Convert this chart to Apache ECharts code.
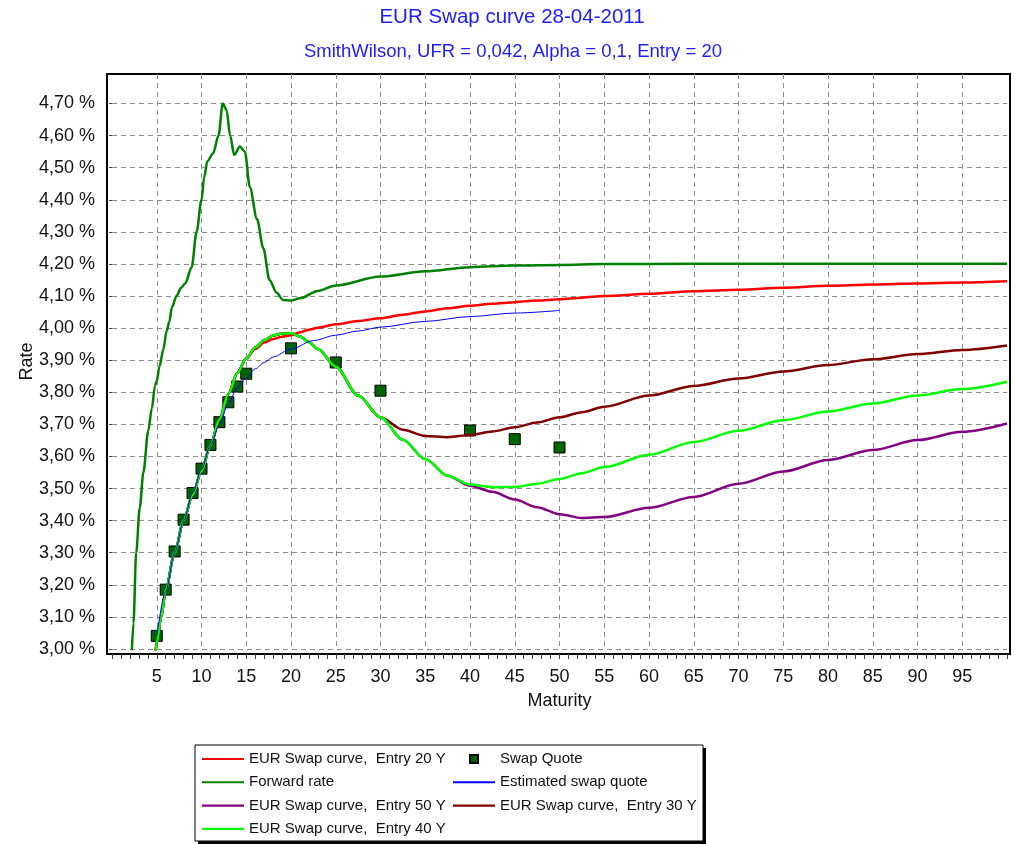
<!DOCTYPE html>
<html>
<head>
<meta charset="utf-8">
<title>EUR Swap curve 28-04-2011</title>
<script src="https://cdn.jsdelivr.net/npm/echarts@6/dist/echarts.min.js"></script>
<style>
  html, body { margin: 0; padding: 0; background: #fff; }
  #main { width: 1015px; height: 844px; }
</style>
</head>
<body>
<div id="main"></div>
<script>
// values (rate in %)
var fwdMat = [2.2, 2.4, 2.7, 3.1, 3.5, 4.05, 4.45, 4.8, 5.0, 5.3, 5.75, 6.1, 6.4, 6.7, 7.2, 7.7, 8.2, 8.9, 9.45, 10.0,
  10.3, 10.65, 11.3, 11.9, 12.37, 12.8, 13.2, 13.65, 14.3, 14.85, 15.4, 16.2, 16.9, 17.6, 18.4, 19.1, 20, 21, 23, 25,
  30, 35, 40, 45, 50, 55, 60, 70, 80, 90, 100];
var fwdRate = [2.985, 3.08, 3.30, 3.44, 3.55, 3.68, 3.75, 3.82, 3.835, 3.88, 3.935, 3.99, 4.02, 4.065, 4.10, 4.125, 4.14, 4.19, 4.30, 4.40,
  4.47, 4.52, 4.545, 4.60, 4.70, 4.68, 4.60, 4.54, 4.566, 4.55, 4.44, 4.34, 4.25, 4.15, 4.11, 4.088, 4.086, 4.093, 4.116, 4.133,
  4.161, 4.177, 4.19, 4.195, 4.197, 4.200, 4.200, 4.201, 4.201, 4.201, 4.201];

var curveMat = [4.85, 5, 5.5, 6, 7, 8, 9, 10, 11, 12, 13, 14, 15, 16, 17, 18, 19, 20, 21, 22,
  23, 25, 27.5, 30, 32.5, 35, 37.5, 40, 42.5, 45, 47.5, 50, 52.5, 55, 60, 65, 70, 75, 80, 85,
  90, 95, 100];
var entry20 = [2.985, 3.02, 3.10, 3.185, 3.30, 3.40, 3.48, 3.555, 3.635, 3.715, 3.795, 3.86, 3.905, 3.935, 3.955, 3.966, 3.973, 3.978, 3.987, 3.995,
  4.001, 4.012, 4.022, 4.031, 4.042, 4.052, 4.062, 4.07, 4.076, 4.081, 4.086, 4.09, 4.095, 4.10, 4.107, 4.115, 4.12, 4.126, 4.132, 4.136,
  4.139, 4.142, 4.146];
var entry30 = [2.985, 3.02, 3.10, 3.185, 3.30, 3.40, 3.48, 3.555, 3.635, 3.715, 3.795, 3.86, 3.905, 3.94, 3.962, 3.977, 3.983, 3.984, 3.974, 3.957,
  3.935, 3.88, 3.79, 3.722, 3.683, 3.664, 3.66, 3.667, 3.678, 3.691, 3.706, 3.722, 3.738, 3.755, 3.79, 3.82, 3.843, 3.865, 3.885, 3.903,
  3.919, 3.932, 3.946];
var entry40 = [2.985, 3.02, 3.10, 3.185, 3.30, 3.40, 3.48, 3.555, 3.635, 3.715, 3.795, 3.86, 3.905, 3.94, 3.962, 3.977, 3.983, 3.984, 3.974, 3.957,
  3.935, 3.88, 3.79, 3.722, 3.652, 3.592, 3.54, 3.513, 3.504, 3.505, 3.515, 3.53, 3.548, 3.567, 3.605, 3.645, 3.68, 3.713, 3.74, 3.765,
  3.79, 3.81, 3.833];
var entry50 = [2.985, 3.02, 3.10, 3.185, 3.30, 3.40, 3.48, 3.555, 3.635, 3.715, 3.795, 3.86, 3.905, 3.94, 3.962, 3.977, 3.983, 3.984, 3.974, 3.957,
  3.935, 3.88, 3.79, 3.722, 3.652, 3.592, 3.54, 3.509, 3.49, 3.466, 3.442, 3.42, 3.408, 3.411, 3.44, 3.474, 3.515, 3.553, 3.589, 3.62,
  3.651, 3.677, 3.703];

var estMat = [5, 6, 7, 8, 9, 10, 11, 12, 13, 14, 15, 16, 17, 18, 20, 22.5, 25, 27.5, 30, 35, 40, 45, 50];
var estRate = [3.04, 3.18, 3.30, 3.40, 3.485, 3.56, 3.635, 3.70, 3.765, 3.815, 3.845, 3.873, 3.893, 3.91,
  3.935, 3.961, 3.978, 3.991, 4.003, 4.021, 4.036, 4.047, 4.055];

var quoteMat = [5, 6, 7, 8, 9, 10, 11, 12, 13, 14, 15, 20, 25, 30, 40, 45, 50];
var quoteRate = [3.041, 3.185, 3.304, 3.403, 3.486, 3.562, 3.636, 3.707, 3.769, 3.818, 3.858, 3.937, 3.893, 3.805, 3.681, 3.654, 3.628];

var xTicks = [0, 100, 5];      // min, max, step
var yTicks = [3.0, 4.792, 0.1];

function pairs(xs, ys) {
  var out = [];
  for (var i = 0; i < xs.length; i++) out.push([xs[i], ys[i]]);
  return out;
}

var font = "'Liberation Sans', Arial, sans-serif";
var gridLine = { show: true, lineStyle: { color: "#8c8c8c", type: [5, 4], width: 1 } };
var lineIcon = "path://M0,0H40V2H0Z";

function curve(name, color, width, xs, ys) {
  return {
    name: name,
    type: "line",
    data: pairs(xs, ys),
    symbol: "none",
    smooth: 0.3,
    smoothMonotone: "x",
    lineStyle: { color: color, width: width },
    itemStyle: { color: color }
  };
}

function legendItem(name) {
  return { name: name, icon: lineIcon };
}

var chart = echarts.init(document.getElementById("main"));

chart.setOption({
  animation: false,
  backgroundColor: "#fff",
  textStyle: { fontFamily: font },
  title: [
    {
      text: "EUR Swap curve 28-04-2011",
      left: 507,
      top: 2,
      textAlign: "center",
      textStyle: { color: "#1c1cff", fontSize: 20.5, fontWeight: "normal", fontFamily: font }
    },
    {
      text: "SmithWilson, UFR = 0,042, Alpha = 0,1, Entry = 20",
      left: 508,
      top: 37,
      textAlign: "center",
      textStyle: { color: "#1c1cff", fontSize: 18.5, fontWeight: "normal", fontFamily: font }
    }
  ],
  grid: { left: 112, right: 8, top: 74, bottom: 195 },
  xAxis: {
    type: "value",
    min: xTicks[0],
    max: xTicks[1],
    interval: xTicks[2],
    offset: 5,
    name: "Maturity",
    nameLocation: "middle",
    nameGap: 38,
    nameTextStyle: { color: "#111", fontSize: 18, fontFamily: font },
    axisLine: { show: false },
    axisTick: { show: true, length: 5, lineStyle: { color: "#444" } },
    minorTick: { show: true, splitNumber: 5, length: 5, lineStyle: { color: "#444" } },
    axisLabel: {
      color: "#111",
      fontSize: 18,
      margin: 14,
      showMinLabel: false,
      showMaxLabel: false
    },
    splitLine: Object.assign({ showMinLine: false, showMaxLine: false }, gridLine)
  },
  yAxis: {
    type: "value",
    min: yTicks[0],
    max: yTicks[1],
    interval: yTicks[2],
    offset: 5,
    name: "Rate",
    nameLocation: "middle",
    nameRotate: 90,
    nameGap: 71,
    nameMoveOverlap: false,
    nameTextStyle: { color: "#111", fontSize: 18, fontFamily: font },
    axisLine: { show: false },
    axisTick: { show: true, length: 3, lineStyle: { color: "#444" } },
    axisLabel: {
      color: "#111",
      fontSize: 18,
      margin: 12,
      showMaxLabel: false,
      formatter: function (v) {
        return v.toFixed(2).replace(".", ",") + " %";
      }
    },
    splitLine: Object.assign({ showMaxLine: false }, gridLine)
  },
  graphic: [
    {
      type: "rect",
      shape: { x: 107, y: 74, width: 903, height: 580 },
      style: { fill: null, stroke: "#000", lineWidth: 2 },
      silent: true
    },
    // legend frame: a black block behind as the drop shadow, then the white box
    {
      type: "rect",
      shape: { x: 198, y: 748, width: 508, height: 96 },
      style: { fill: "#000" },
      silent: true
    },
    {
      type: "rect",
      shape: { x: 195, y: 745, width: 508, height: 96 },
      style: { fill: "#fff", stroke: "#000", lineWidth: 1 },
      silent: true
    }
  ],
  legend: [
    {
      orient: "vertical",
      left: 202,
      top: 750,
      padding: 0,
      itemWidth: 42,
      itemHeight: 14,
      itemGap: 5.3,
      textStyle: { color: "#111", fontSize: 15, lineHeight: 18, fontFamily: font },
      data: [
        legendItem("EUR Swap curve,  Entry 20 Y"),
        legendItem("Forward rate"),
        legendItem("EUR Swap curve,  Entry 50 Y"),
        legendItem("EUR Swap curve,  Entry 40 Y")
      ]
    },
    {
      orient: "vertical",
      left: 453,
      top: 750,
      padding: 0,
      itemWidth: 42,
      itemHeight: 8,
      itemGap: 5.3,
      textStyle: { color: "#111", fontSize: 15, lineHeight: 18, fontFamily: font },
      data: [
        { name: "Swap Quote", icon: "path://M0,0H10V10H0Z" },
        legendItem("Estimated swap quote"),
        legendItem("EUR Swap curve,  Entry 30 Y")
      ]
    }
  ],
  series: [
    curve("EUR Swap curve,  Entry 20 Y", "#ff0000", 2.5, curveMat, entry20),
    curve("EUR Swap curve,  Entry 50 Y", "#800080", 2.5, curveMat, entry50),
    curve("EUR Swap curve,  Entry 30 Y", "#800000", 2.5, curveMat, entry30),
    curve("EUR Swap curve,  Entry 40 Y", "#00ff00", 2.5, curveMat, entry40),
    curve("Forward rate", "#008000", 2.5, fwdMat, fwdRate),
    curve("Estimated swap quote", "#0000ff", 1, estMat, estRate),
    {
      name: "Swap Quote",
      type: "scatter",
      data: pairs(quoteMat, quoteRate),
      symbol: "rect",
      symbolSize: 11,
      itemStyle: { color: "#006400", borderColor: "#000", borderWidth: 1, opacity: 1 }
    }
  ]
});
</script>
</body>
</html>
